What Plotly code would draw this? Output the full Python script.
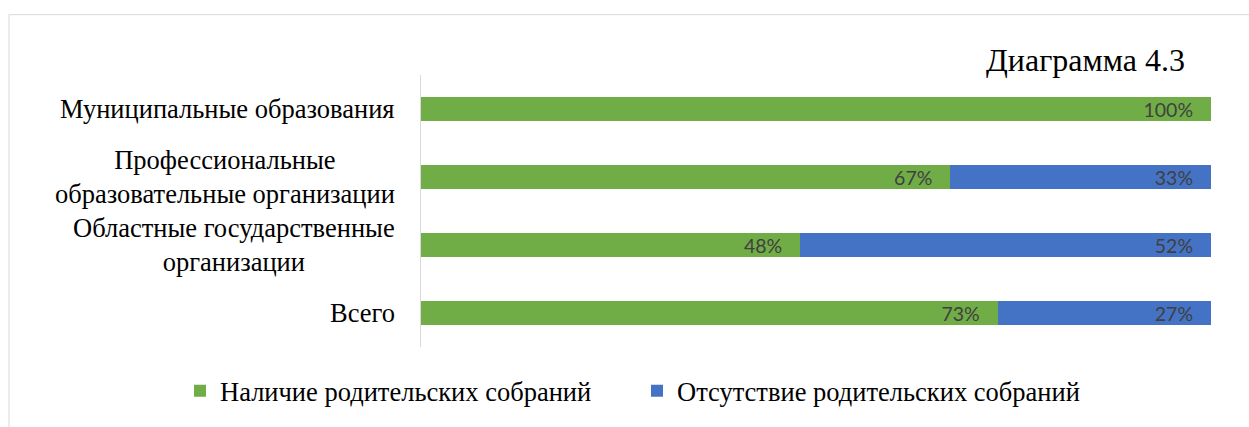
import plotly.graph_objects as go

categories = [
    "Муниципальные образования",
    "Профессиональные<br>образовательные организации",
    "Областные государственные<br>организации",
    "Всего",
]
present = [100, 67, 48, 73]
absent = [0, 33, 52, 27]
series_names = ["Наличие родительских собраний", "Отсутствие родительских собраний"]
title_text = "Диаграмма 4.3"

GREEN = "#70AD47"
BLUE = "#4472C4"
NBSP = "\u00a0"

def labels(vals):
    return [f"{v}%" + NBSP * 3 if v > 0 else "" for v in vals]

fig = go.Figure()
fig.add_trace(go.Bar(
    y=categories, x=present, orientation="h", name=series_names[0],
    marker=dict(color=GREEN, line=dict(width=0)),
    text=labels(present), textposition="inside", insidetextanchor="end",
    textfont=dict(family="Lato", size=19.5, color="#404040"),
    hoverinfo="skip",
))
fig.add_trace(go.Bar(
    y=categories, x=absent, orientation="h", name=series_names[1],
    marker=dict(color=BLUE, line=dict(width=0)),
    text=labels(absent), textposition="inside", insidetextanchor="end",
    textfont=dict(family="Lato", size=19.5, color="#404040"),
    hoverinfo="skip",
))

annotations = []
for c in categories:
    annotations.append(dict(
        x=-0.030, xref="paper", xanchor="right", y=c, yref="y", yanchor="middle",
        text=c, showarrow=False, align="center",
        font=dict(family="Liberation Serif", size=26.5, color="#000000"),
    ))
annotations.append(dict(
    x=(1187 - 421) / 790, xref="paper", xanchor="right", y=(350 - 80) / 275, yref="paper",
    yanchor="bottom",
    text=title_text, showarrow=False,
    font=dict(family="Liberation Serif", size=32, color="#000000"),
))

fig.update_layout(
    barmode="stack",
    bargap=0.65,
    width=1249, height=427,
    margin=dict(l=421, r=38, t=75, b=77),
    paper_bgcolor="white", plot_bgcolor="white",
    uniformtext=dict(mode="show", minsize=19),
    xaxis=dict(range=[0, 100], showgrid=False, zeroline=False, showticklabels=False,
               showline=False, fixedrange=True),
    yaxis=dict(autorange="reversed", showticklabels=False, showgrid=False,
               showline=True, linecolor="#D9D9D9", linewidth=1, zeroline=False,
               fixedrange=True),
    showlegend=True,
    legend=dict(orientation="h", x=(180 - 421) / 790, xanchor="left", y=(350 - 394.5) / 275,
                yanchor="middle",
                font=dict(family="Liberation Serif", size=26.5, color="#000000"),
                itemwidth=30, entrywidth=412, traceorder="normal", bgcolor="rgba(0,0,0,0)"),
    annotations=annotations,
    shapes=[dict(type="rect", xref="paper", yref="paper",
                 x0=(9 - 421) / 790, x1=(1270 - 421) / 790,
                 y0=-0.4, y1=(350 - 14) / 275,
                 line=dict(color="#D9D9D9", width=1), fillcolor="rgba(0,0,0,0)",
                 layer="below")],
)

fig.write_html("out.html", config={"displayModeBar": False},
               post_script="document.body.style.margin='0';document.body.style.padding='0';")
